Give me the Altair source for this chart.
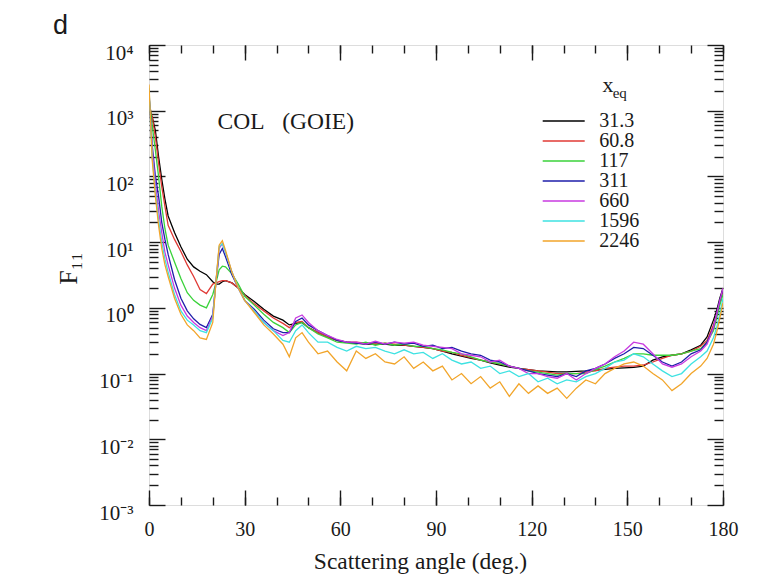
import altair as alt
import pandas as pd

# Scattering angle grid (degrees)
angles = [0, 1, 2, 3, 4, 5, 6, 8, 10, 12, 14, 16, 18, 20, 21, 22, 23, 24, 26, 28, 30,
          33, 36, 39, 42, 44, 46, 48, 50, 53, 56, 59, 62, 65, 68, 71, 74, 77, 80, 83,
          86, 89, 92, 95, 98, 101, 104, 107, 110, 113, 116, 119, 122, 125, 128, 131,
          134, 137, 140, 143, 146, 149, 152, 155, 158, 161, 164, 167, 170, 173, 175,
          177, 178, 179, 180]

# Phase function F11 for each equivalent size parameter
f11_x31_3 = [1000, 800, 500, 200, 90, 45, 25, 14, 8.5, 5.5, 4.2, 3.6, 3.2, 2.5, 2.3, 2.3,
             2.5, 2.6, 2.4, 2.0, 1.6, 1.25, 0.95, 0.75, 0.65, 0.55, 0.58, 0.6, 0.5,
             0.42, 0.36, 0.32, 0.30, 0.29, 0.28, 0.28, 0.28, 0.27, 0.27,
             0.26, 0.25, 0.24, 0.22, 0.20, 0.185, 0.17, 0.16, 0.145, 0.135,
             0.125, 0.12, 0.115, 0.11, 0.108, 0.106, 0.106, 0.108, 0.11, 0.113,
             0.116, 0.12, 0.122, 0.124, 0.13, 0.16, 0.18, 0.19, 0.2, 0.23,
             0.27, 0.36, 0.65, 0.9, 1.4, 2.0]
f11_x60_8 = [1300, 800, 400, 160, 70, 35, 18, 11, 7.2, 4.5, 3.0, 1.9, 1.65, 2.3, 2.4, 2.5,
             2.6, 2.6, 2.4, 2.0, 1.55, 1.15, 0.9, 0.7, 0.58, 0.5, 0.6, 0.62, 0.5,
             0.42, 0.36, 0.32, 0.30, 0.30, 0.29, 0.28, 0.29, 0.28, 0.27,
             0.26, 0.25, 0.24, 0.22, 0.21, 0.19, 0.175, 0.16, 0.15, 0.14,
             0.13, 0.12, 0.115, 0.11, 0.105, 0.10, 0.10, 0.10, 0.105, 0.11,
             0.12, 0.125, 0.13, 0.13, 0.135, 0.15, 0.17, 0.19, 0.2, 0.22,
             0.26, 0.32, 0.55, 0.8, 1.2, 1.8]
f11_x117 = [1600, 600, 250, 100, 35, 16, 9, 5, 2.8, 1.7, 1.3, 1.1, 1.0, 1.6, 2.4, 3.8,
            4.3, 4.2, 3.3, 2.3, 1.5, 1.1, 0.8, 0.6, 0.5, 0.42, 0.55, 0.6, 0.5,
            0.4, 0.35, 0.3, 0.29, 0.28, 0.3, 0.27, 0.29, 0.27, 0.28,
            0.26, 0.26, 0.24, 0.23, 0.21, 0.2, 0.18, 0.16, 0.15, 0.14,
            0.13, 0.12, 0.11, 0.105, 0.1, 0.095, 0.1, 0.1, 0.1, 0.115,
            0.13, 0.15, 0.17, 0.2, 0.2, 0.19, 0.19, 0.19, 0.2, 0.22,
            0.24, 0.3, 0.45, 0.7, 1.1, 1.6]
f11_x311 = [1800, 300, 100, 50, 20, 11, 6.5, 2.7, 1.4, 0.9, 0.68, 0.56, 0.5, 0.8, 2.5, 6.5,
            8, 6, 3.2, 2.0, 1.3, 0.95, 0.65, 0.48, 0.42, 0.42, 0.62, 0.7, 0.55,
            0.45, 0.38, 0.32, 0.30, 0.29, 0.28, 0.30, 0.28, 0.30, 0.28,
            0.29, 0.26, 0.27, 0.24, 0.25, 0.22, 0.2, 0.19, 0.16, 0.15,
            0.13, 0.12, 0.11, 0.1, 0.095, 0.09, 0.1, 0.09, 0.11, 0.12,
            0.14, 0.17, 0.2, 0.25, 0.24, 0.19, 0.15, 0.13, 0.15, 0.2,
            0.23, 0.3, 0.5, 0.8, 1.3, 1.9]
f11_x660 = [2000, 250, 80, 30, 14, 7, 4.5, 2.0, 1.1, 0.75, 0.6, 0.5, 0.45, 0.75, 2.5, 8,
            9.5, 7, 3.5, 2.0, 1.3, 0.9, 0.6, 0.45, 0.38, 0.42, 0.7, 0.78, 0.6,
            0.45, 0.38, 0.33, 0.30, 0.30, 0.28, 0.31, 0.28, 0.30, 0.29,
            0.30, 0.27, 0.26, 0.25, 0.24, 0.20, 0.19, 0.18, 0.15, 0.16,
            0.13, 0.12, 0.10, 0.10, 0.09, 0.085, 0.10, 0.08, 0.10, 0.12,
            0.14, 0.18, 0.22, 0.30, 0.28, 0.20, 0.14, 0.125, 0.14, 0.18,
            0.22, 0.28, 0.5, 0.8, 1.3, 2.0]
f11_x1596 = [2200, 200, 60, 22, 10, 5.5, 3.5, 1.6, 0.9, 0.65, 0.55, 0.45, 0.42, 0.7, 2.5, 8.5,
             9.5, 7, 3.5, 2.0, 1.3, 0.9, 0.6, 0.45, 0.32, 0.3, 0.45, 0.55, 0.42,
             0.3, 0.3, 0.25, 0.22, 0.26, 0.24, 0.25, 0.22, 0.2, 0.23,
             0.2, 0.21, 0.17, 0.2, 0.16, 0.14, 0.15, 0.12, 0.13, 0.1,
             0.11, 0.09, 0.1, 0.075, 0.085, 0.07, 0.08, 0.075, 0.09, 0.1,
             0.12, 0.15, 0.16, 0.2, 0.18, 0.14, 0.11, 0.09, 0.1, 0.14,
             0.18, 0.22, 0.35, 0.5, 0.8, 1.4]
f11_x2246 = [2500, 180, 50, 18, 8, 4.5, 3.0, 1.4, 0.8, 0.55, 0.45, 0.35, 0.33, 0.6, 2.5, 9,
             10.5, 7.5, 3.5, 2.0, 1.3, 0.85, 0.55, 0.4, 0.28, 0.18, 0.35, 0.42, 0.3,
             0.2, 0.22, 0.15, 0.11, 0.22, 0.17, 0.2, 0.15, 0.14, 0.18,
             0.12, 0.15, 0.11, 0.13, 0.08, 0.1, 0.07, 0.09, 0.06, 0.075,
             0.045, 0.07, 0.05, 0.065, 0.05, 0.06, 0.042, 0.06, 0.08, 0.07,
             0.1, 0.12, 0.14, 0.15, 0.13, 0.1, 0.08, 0.055, 0.07, 0.1,
             0.13, 0.17, 0.28, 0.42, 0.7, 1.2]

size_labels = ["31.3", "60.8", "117", "311", "660", "1596", "2246"]
series_values = [f11_x31_3, f11_x60_8, f11_x117, f11_x311, f11_x660, f11_x1596, f11_x2246]
line_colors = ["#000000", "#e03a35", "#3ad23a", "#1e1eaa", "#c83ae0", "#3ee2e2", "#f2a52a"]

x_major = [0, 30, 60, 90, 120, 150, 180]
x_minor = list(range(0, 181, 10))
y_major = [1e-3, 1e-2, 1e-1, 1e0, 1e1, 1e2, 1e3, 1e4]
y_minor = [m * 10.0 ** k for k in range(-3, 4) for m in range(2, 10)]

rows = []
for label, vals in zip(size_labels, series_values):
    for a, v in zip(angles, vals):
        rows.append({"angle": a, "F11": v, "xeq": label})
df = pd.DataFrame(rows)

SERIF = "Liberation Serif"
INK = "#1a1a1a"

x_scale = alt.Scale(domain=[0, 180], nice=False, zero=False)
y_scale = alt.Scale(type="log", domain=[1e-3, 1e4], nice=False)
color_scale = alt.Scale(domain=size_labels, range=line_colors)

sup_expr = ("'10' + ['\u207b\u00b3','\u207b\u00b2','\u207b\u00b9','\u2070','\u00b9','\u00b2','\u00b3','\u2074']"
            "[round(log(datum.value)/LN10) + 3]")


def x_axis(values, size, orient, labels=False):
    kw = dict(values=values, orient=orient, offset=-size, tickSize=size, domain=False,
              grid=False, tickColor=INK, tickWidth=1.4, labels=labels, title="")
    if labels:
        kw.update(labelFont=SERIF, labelFontSize=20, labelColor=INK, labelPadding=14,
                  labelFlush=False,
                  title="Scattering angle (deg.)", titleFont=SERIF, titleFontSize=23.5,
                  titleFontWeight="normal", titleColor=INK, titleBaseline="alphabetic",
                  titleAlign="center", titleX=271, titleY=78)
    return alt.Axis(**kw)


def y_axis(values, size, orient, labels=False):
    kw = dict(values=values, orient=orient, offset=-size, tickSize=size, domain=False,
              grid=False, tickColor=INK, tickWidth=1.4, labels=labels, title="")
    if labels:
        kw.update(labelFont=SERIF, labelFontSize=21, labelColor=INK, labelPadding=16,
                  labelExpr=sup_expr, labelOffset=8, labelFlush=False,
                  title="F\u2081\u2081", titleFont=SERIF, titleFontSize=26,
                  titleFontWeight="normal", titleColor=INK, titleX=-97, titleY=223,
                  titleAlign="center", titleBaseline="middle", titleAngle=270)
    return alt.Axis(**kw)


curves = alt.Chart(df).mark_line(strokeWidth=1.3, clip=True).encode(
    x=alt.X("angle:Q", scale=x_scale, axis=x_axis(x_major, 15, "bottom", labels=True)),
    y=alt.Y("F11:Q", scale=y_scale, axis=y_axis(y_major, 16, "left", labels=True)),
    color=alt.Color("xeq:N", scale=color_scale, sort=size_labels,
                    legend=alt.Legend(orient="none", legendX=404.7, legendY=66, title=None,
                                      symbolType="M-2.278,0H2.278", symbolSize=340,
                                      symbolStrokeWidth=1.5, labelFont=SERIF,
                                      labelFontSize=20, labelColor=INK, labelOffset=25.5,
                                      rowPadding=0, padding=0)),
)


def frame_layer(xv, xs, xo, yv, ys, yo):
    return alt.Chart(df).mark_line(strokeOpacity=0).encode(
        x=alt.X("angle:Q", scale=x_scale, axis=x_axis(xv, xs, xo)),
        y=alt.Y("F11:Q", scale=y_scale, axis=y_axis(yv, ys, yo)),
        detail="xeq:N",
    )


minor_ticks = frame_layer(x_minor, 8, "bottom", y_minor, 9, "left")
top_right_major = frame_layer(x_major, 15, "top", y_major, 16, "right")
top_right_minor = frame_layer(x_minor, 8, "top", y_minor, 9, "right")

notes = pd.DataFrame({
    "angle": [21.5, 142.2, 145.4],
    "F11": [673, 2460, 1860],
    "txt": ["COL\u00a0\u00a0\u00a0(GOIE)", "x", "eq"],
    "fs": [23.5, 22, 15],
})
annotations = alt.Chart(notes).mark_text(font=SERIF, align="left", baseline="middle",
                                         color=INK).encode(
    x=alt.X("angle:Q", scale=x_scale, axis=None),
    y=alt.Y("F11:Q", scale=y_scale, axis=None),
    text="txt:N",
    size=alt.Size("fs:Q", scale=None, legend=None),
)

chart = alt.layer(curves, minor_ticks, top_right_major, top_right_minor, annotations).resolve_axis(
    x="independent", y="independent"
).properties(
    width=574, height=460,
    autosize=alt.AutoSizeParams(type="none"),
    padding={"left": 149, "top": 45, "right": 37, "bottom": 72},
    title=alt.TitleParams("d", anchor="start", frame="group", font="Liberation Sans",
                          fontSize=27, fontWeight="normal", color=INK, dx=-96, dy=31,
                          offset=12, baseline="alphabetic"),
).configure_view(stroke=INK, strokeWidth=1.5).configure(background="white")

chart.save("out.html", embed_options={"renderer": "svg", "actions": False})
